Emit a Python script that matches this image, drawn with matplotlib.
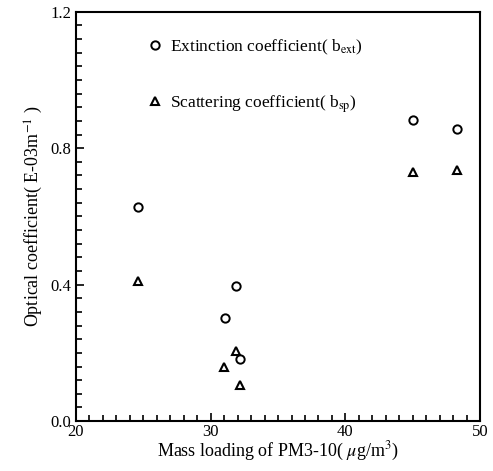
import matplotlib.pyplot as plt
from matplotlib.ticker import MultipleLocator

plt.rcParams['font.family'] = ['Liberation Serif', 'DejaVu Serif']
plt.rcParams['mathtext.fontset'] = 'stix'

# extinction coefficient (circles)
ext_x = [24.6, 31.1, 31.9, 32.2, 45.0, 48.3]
ext_y = [0.627, 0.302, 0.397, 0.181, 0.883, 0.856]
# scattering coefficient (triangles)
sp_x = [24.6, 31.0, 31.9, 32.2, 45.0, 48.3]
sp_y = [0.410, 0.159, 0.205, 0.105, 0.729, 0.737]

fig = plt.figure(figsize=(4.93, 4.71), dpi=100)
ax = fig.add_axes([0.154, 0.106, 0.820, 0.869])

ax.plot(ext_x, ext_y, 'o', ms=6, mfc='white', mec='black', mew=1.4,
        linestyle='none', label='Extinction coefficient( b$_{\\mathrm{ext}}$)')
ax.plot(sp_x, sp_y, '^', ms=5.5, mfc='white', mec='black', mew=1.5,
        linestyle='none', label='Scattering coefficient( b$_{\\mathrm{sp}}$)')

ax.set_xlim(20, 50)
ax.set_ylim(0.0, 1.2)
ax.xaxis.set_major_locator(MultipleLocator(10))
ax.xaxis.set_minor_locator(MultipleLocator(1))
ax.yaxis.set_major_locator(MultipleLocator(0.4))
ax.yaxis.set_minor_locator(MultipleLocator(0.04))
ax.yaxis.set_major_formatter(plt.FormatStrFormatter('%.1f'))
ax.tick_params(which='both', direction='in', top=False, right=False,
               labelsize=12, width=1.2)
ax.tick_params(which='major', length=6)
ax.tick_params(which='minor', length=4)
ax.tick_params(axis='x', pad=2)
for s in ax.spines.values():
    s.set_linewidth(1.5)

ax.set_xlabel('Mass loading of PM3-10( $\\mu$g/m$^3$)', fontsize=13, labelpad=0)
ax.set_ylabel('Optical coefficient( E-03m$^{-1}$ )', fontsize=13, labelpad=4)

ax.legend(loc='upper left', bbox_to_anchor=(0.13, 0.975), frameon=False,
          fontsize=12.5, labelspacing=2.1, handlelength=1.2,
          handletextpad=0.3, numpoints=1)

fig.savefig('out.png', dpi=100)
